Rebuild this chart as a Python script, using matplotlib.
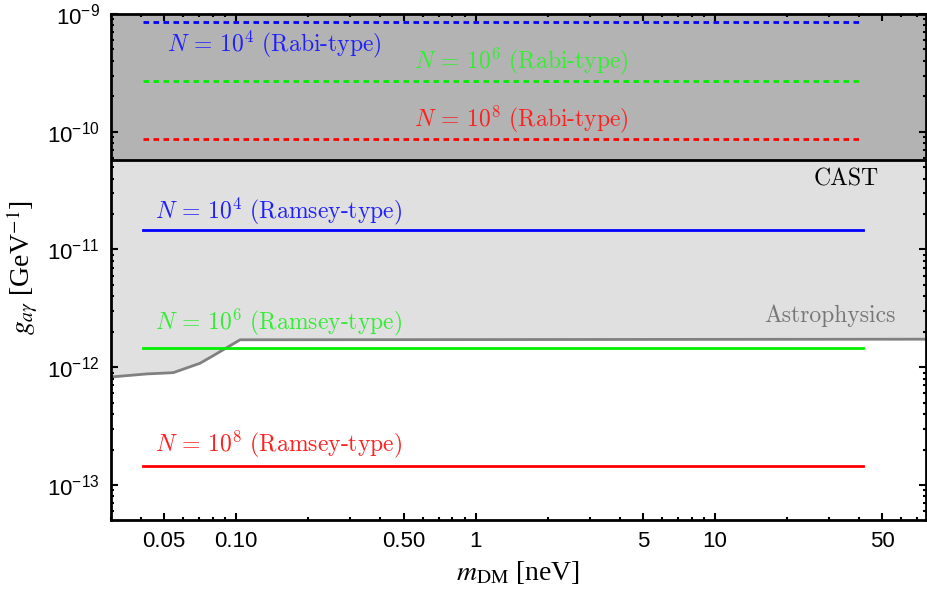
import numpy as np
import matplotlib
matplotlib.use("Agg")
import matplotlib.pyplot as plt
from matplotlib.ticker import FixedLocator, NullFormatter, LogLocator

plt.rcParams['font.family'] = ['Liberation Sans', 'DejaVu Sans']
plt.rcParams['axes.formatter.use_mathtext'] = True

# ---- data ----
x_range = [0.041, 41.5]                     # extent of sensitivity lines [neV]
N_labels = ["10^4", "10^6", "10^8"]
rabi_g = [8.6e-10, 2.72e-10, 8.6e-11]       # Rabi-type sensitivities
ramsey_g = [1.45e-11, 1.45e-12, 1.45e-13]   # Ramsey-type sensitivities
line_colors = ["#0000ff", "#00ee00", "#ff0000"]
text_colors = ["#2020ff", "#33ee33", "#ff2020"]
cast_g = 5.73e-11
astro_m = [0.03, 0.0423, 0.0546, 0.0706, 0.080, 0.1038, 76.0]
astro_g = [8.26e-13, 8.77e-13, 8.99e-13, 1.08e-12, 1.25e-12, 1.71e-12, 1.73e-12]
xticks = [0.05, 0.10, 0.50, 1, 5, 10, 50]
xticklabels = ["0.05", "0.10", "0.50", "1", "5", "10", "50"]
xlim = (0.03, 76.0)
ylim = (5.04e-14, 1e-9)

fig = plt.figure(figsize=(9.28, 5.94), dpi=100)
ax = fig.add_axes([0.1196, 0.1246, 0.9978 - 0.1196, 0.9764 - 0.1246])
ax.set_xscale('log')
ax.set_yscale('log')
ax.set_xlim(*xlim)
ax.set_ylim(*ylim)

# shaded regions
ax.fill_between(astro_m, astro_g, ylim[1], color='#e0e0e0', lw=0, zorder=0)
ax.fill_between(xlim, cast_g, ylim[1], color='#b3b3b3', lw=0, zorder=0.5)
ax.plot(xlim, [cast_g, cast_g], color='black', lw=2, zorder=1)
ax.plot(astro_m, astro_g, color='#808080', lw=2, zorder=1)

for g, c in zip(rabi_g, line_colors):
    ax.plot(x_range, [g, g], color=c, lw=2, ls=(0, (2.0, 1.6)), zorder=2)
for g, c in zip(ramsey_g, line_colors):
    ax.plot(x_range, [g, g], color=c, lw=2, zorder=2)

tkw = dict(family='cmr10', math_fontfamily='cm', fontsize=17)
rabi_pos = [(0.145, 5.55e-10), (1.55, 3.98e-10), (1.55, 1.28e-10)]
for (xp, yp), n, c in zip(rabi_pos, N_labels, text_colors):
    ax.text(xp, yp, r"$N\,=\,%s$ (Rabi-type)" % n, color=c, ha='center', va='center', **tkw)
ramsey_pos = [2.11e-11, 2.39e-12, 2.22e-13]
for yp, n, c in zip(ramsey_pos, N_labels, text_colors):
    ax.text(0.0459, yp, r"$N\,=\,%s$ (Ramsey-type)" % n, color=c, ha='left', va='center', **tkw)
ax.text(48.3, 3.94e-11, "CAST", color='black', ha='right', va='center', **tkw)
ax.text(57, 2.73e-12, "Astrophysics", color='#777777', ha='right', va='center', **tkw)

# ticks
ax.xaxis.set_major_locator(FixedLocator(xticks))
ax.set_xticklabels(xticklabels)
minor = [m * 10.0**e for e in range(-2, 2) for m in range(1, 10)]
minor = [v for v in minor if v not in xticks and xlim[0] <= v <= xlim[1]]
ax.xaxis.set_minor_locator(FixedLocator(minor))
ax.xaxis.set_minor_formatter(NullFormatter())
ax.yaxis.set_major_locator(LogLocator(base=10, numticks=20))
ax.yaxis.set_minor_locator(LogLocator(base=10, subs=np.arange(2, 10), numticks=20))
ax.yaxis.set_minor_formatter(NullFormatter())
ax.tick_params(which='both', direction='in', top=True, right=True, width=1.5, labelsize=16)
ax.tick_params(which='major', length=5, pad=8)
ax.tick_params(which='minor', length=2.5)
for s in ax.spines.values():
    s.set_linewidth(2)

lkw = dict(family='Liberation Serif', math_fontfamily='stix', fontsize=20)
ax.set_xlabel(r"$m_{\rm DM}$ [neV]", labelpad=5, **lkw)
ax.set_ylabel(r"$g_{a\gamma}$ [GeV$^{-1}$]", labelpad=5, **lkw)

fig.savefig("out.png", dpi=100)
